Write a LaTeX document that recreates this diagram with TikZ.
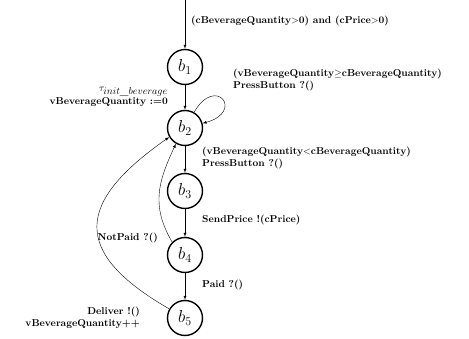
\documentclass[tikz,border=0pt]{standalone}
\usetikzlibrary{arrows}

\begin{document}
\begin{tikzpicture}[x=1pt, y=1pt, >=latex,
        main/.style = {draw, circle, line width=1.4pt, minimum size=35pt, inner sep=0pt, font=\LARGE},
        lbl/.style = {font=\normalsize\bfseries, inner sep=0pt, align=left}]
        \useasboundingbox (0,0) rectangle (469,338);

        \coordinate (s) at (185,338);
        \node[main] (b1) at (185,271) {$b_1$};
        \node[main] (b2) at (185,210) {$b_2$};
        \node[main] (b3) at (185,147) {$b_3$};
        \node[main] (b4) at (185,83) {$b_4$};
        \node[main] (b5) at (185,20) {$b_5$};

        \draw[->] (s) -- (b1);
        \draw[->] (b1) -- (b2);
        \draw[->] (b2) -- (b3);
        \draw[->] (b3) -- (b4);
        \draw[->] (b4) -- (b5);
        \draw[->] (b2.60) to [out=60,in=15,looseness=8] (b2.15);
        \draw[->] (b4.135) to [out=120,in=245,looseness=1.1] (b2.240);
        \draw[->] (b5.150) to [out=150,in=215,looseness=1.7] (b2.210);

        \node[lbl, anchor=west] (l1) at (191,317) {(cBeverageQuantity$>$0) and (cPrice$>$0)};
        \node[lbl, anchor=west] (l2) at (233,258) {(vBeverageQuantity$\geq$cBeverageQuantity)\\PressButton ?()};
        \node[lbl, anchor=east, align=right] (l3) at (168,241) {$\tau_{\textstyle init\_beverage}$\\vBeverageQuantity :=0};
        \node[lbl, anchor=west] (l4) at (202,180) {(vBeverageQuantity$<$cBeverageQuantity)\\PressButton ?()};
        \node[lbl, anchor=west] (l5) at (202,118) {SendPrice !(cPrice)};
        \node[lbl, anchor=east] (l6) at (158,100) {NotPaid ?()};
        \node[lbl, anchor=west] (l7) at (202,53) {Paid ?()};
        \node[lbl, anchor=east, align=right] (l8) at (140,20) {Deliver !()\\vBeverageQuantity++};

    \end{tikzpicture}
\end{document}
